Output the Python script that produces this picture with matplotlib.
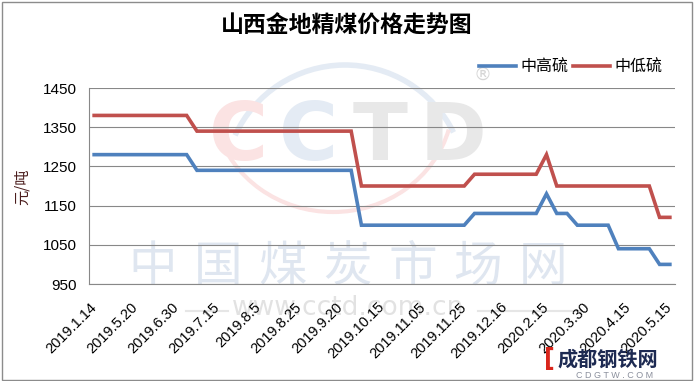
import matplotlib.pyplot as plt
from matplotlib.patches import Arc, Rectangle
from matplotlib.lines import Line2D

plt.rcParams['font.family'] = ['Liberation Sans', 'Noto Sans CJK SC', 'DejaVu Sans']

W, H = 694, 381

title = '山西金地精煤价格走势图'
series_names = ['中高硫', '中低硫']
tick_labels = ['2019.1.14', '2019.5.20', '2019.6.30', '2019.7.15', '2019.8.5',
               '2019.8.25', '2019.9.20', '2019.10.15', '2019.11.05', '2019.11.25',
               '2019.12.16', '2020.2.15', '2020.3.30', '2020.4.15', '2020.5.15']

# 中高硫, one value per date (57 dates, every 4th is labelled)
high_sulfur = [1280, 1280, 1280, 1280, 1280, 1280, 1280, 1280, 1280, 1280,
               1240, 1240, 1240, 1240, 1240, 1240, 1240, 1240, 1240, 1240,
               1240, 1240, 1240, 1240, 1240, 1240,
               1100, 1100, 1100, 1100, 1100, 1100, 1100, 1100, 1100, 1100, 1100,
               1130, 1130, 1130, 1130, 1130, 1130, 1130,
               1180,
               1130, 1130,
               1100, 1100, 1100, 1100,
               1040, 1040, 1040, 1040,
               1000, 1000]
# 中低硫
low_sulfur = [1380, 1380, 1380, 1380, 1380, 1380, 1380, 1380, 1380, 1380,
              1340, 1340, 1340, 1340, 1340, 1340, 1340, 1340, 1340, 1340,
              1340, 1340, 1340, 1340, 1340, 1340,
              1200, 1200, 1200, 1200, 1200, 1200, 1200, 1200, 1200, 1200, 1200,
              1230, 1230, 1230, 1230, 1230, 1230, 1230,
              1280,
              1200, 1200, 1200, 1200, 1200, 1200, 1200, 1200, 1200, 1200,
              1120, 1120]
label_step = 4
y_ticks = [950, 1050, 1150, 1250, 1350, 1450]


def fx(x):
    return x / W


def fy(y):
    return 1 - y / H


fig = plt.figure(figsize=(W / 100, H / 100), dpi=100)
ax = fig.add_axes([fx(89), fy(284), fx(675) - fx(89), fy(88) - fy(284)])
ax.patch.set_alpha(0)

# watermarks (drawn behind the axes)
wm = dict(zorder=-5, ha='center', va='center')
for ch, cx, col in zip('CCTD', [239, 309, 380, 453],
                       ['#fbe3e3', '#e4ebf4', '#e8e8e8', '#e8e8e8']):
    fig.text(fx(cx), fy(138), ch, fontsize=58, fontweight='bold', color=col,
             family='DejaVu Sans', **wm)
fig.add_artist(Arc((fx(345), fy(186)), 2 * 121 / W, 2 * 121 / H, theta1=42, theta2=140,
                   color='#e4ebf4', lw=4, transform=fig.transFigure, zorder=-5))
fig.add_artist(Arc((fx(333), fy(100)), 2 * 120 / W, 2 * 112 / H, theta1=205, theta2=335,
                   color='#fbe3e3', lw=3, transform=fig.transFigure, zorder=-5))
fig.text(fx(483), fy(75), '®', fontsize=13, color='#d6d6d6', family='DejaVu Sans', **wm)
for k, ch in enumerate('中国煤炭市场网'):
    fig.text(fx(153 + 65 * k), fy(267), ch, fontsize=35, color='#dfe6f0',
             family='Noto Sans CJK SC', **wm)
fig.text(fx(348), fy(308), 'www.cctd.com.cn', fontsize=19, color='#e2e2e2',
         family='DejaVu Sans', **wm)
fig.add_artist(Line2D([fx(478), fx(580)], [fy(311), fy(311)], color='#e6e6e6', lw=1.5, zorder=-5))
fig.add_artist(Line2D([fx(186), fx(228)], [fy(311), fy(311)], color='#e6e6e6', lw=1.5, zorder=-5))

x = list(range(len(high_sulfur)))
ax.plot(x, high_sulfur, color='#4F81BD', lw=2.6, label=series_names[0],
        solid_joinstyle='miter', zorder=3)
ax.plot(x, low_sulfur, color='#C0504D', lw=2.6, label=series_names[1],
        solid_joinstyle='miter', zorder=3)

ax.set_xlim(-0.5, len(x) - 0.5)
ax.set_ylim(950, 1450)
ax.set_yticks(y_ticks)
ax.set_yticklabels([str(v) for v in y_ticks], fontsize=11)
ax.set_xticks(x[::label_step])
ax.set_xticklabels(tick_labels, rotation=45, ha='right', va='center',
                   rotation_mode='anchor', fontsize=10.5)
ax.tick_params(axis='both', length=0)
ax.tick_params(axis='y', pad=9)
ax.tick_params(axis='x', pad=15)
ax.grid(axis='y', color='#888888', lw=0.8)
ax.set_axisbelow(True)
for s in ['top', 'right']:
    ax.spines[s].set_visible(False)
ax.spines['left'].set_color('#888888')
ax.spines['bottom'].set_color('#888888')
ax.spines['left'].set_linewidth(0.8)
ax.spines['bottom'].set_linewidth(0.8)

fig.text(0.5, fy(26), title, ha='center', va='center', fontsize=16.5,
         fontweight='bold', family='Noto Sans CJK SC')
fig.text(fx(22), fy(187), '元/吨', rotation=90, ha='center', va='center',
         fontsize=11, color='#4a1c1c', family='Noto Sans CJK SC')
fig.legend(loc='center', bbox_to_anchor=(fx(571), fy(67)), ncol=2, frameon=False,
           prop={'family': 'Noto Sans CJK SC', 'size': 11.5},
           handlelength=2.3, handletextpad=0.3, columnspacing=0.3)

# 成都钢铁网 logo, bottom right
fig.text(fx(549), fy(359), '[', fontsize=17, fontweight='bold', color='#d9261c',
         family='DejaVu Sans', ha='center', va='center')
fig.text(fx(608), fy(359), '成都钢铁网', fontsize=14.5, fontweight='bold', color='#1d2a52',
         family='Noto Sans CJK SC', ha='center', va='center')
fig.text(fx(615), fy(375), 'C D G T W . C O M', fontsize=6.5, color='#8a8f9c',
         ha='center', va='center')

fig.add_artist(Rectangle((fx(1.5), fy(379.5)), fx(690), fy(1.5) - fy(379.5), fill=False,
                         edgecolor='#8c8c8c', lw=1, transform=fig.transFigure))

plt.savefig('out.png', dpi=100)
